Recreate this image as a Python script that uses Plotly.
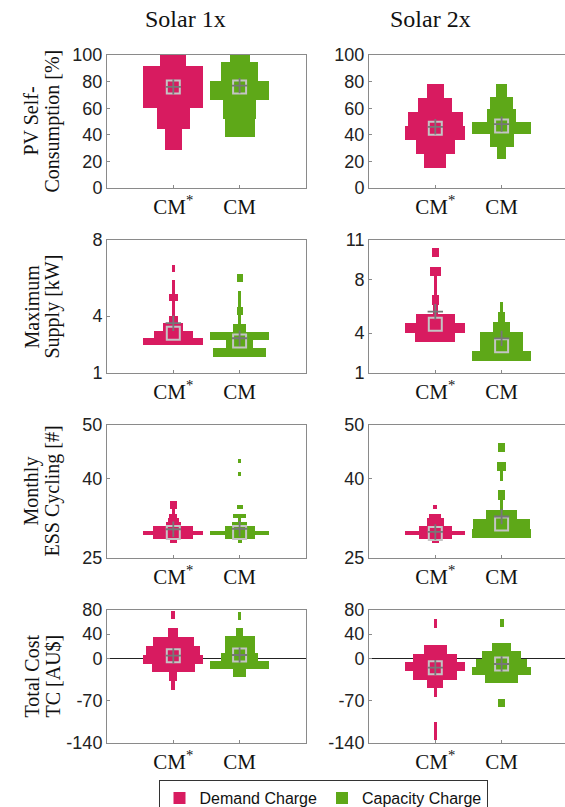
import plotly.graph_objects as go

W, H = 565, 807
DC_COLOR = "#D81B60"
CC_COLOR = "#5EA818"

col_titles = ["Solar 1x", "Solar 2x"]
row_titles = [("PV Self-", "Consumption [%]"), ("Maximum", "Supply [kW]"),
              ("Monthly", "ESS Cycling [#]"), ("Total Cost", "TC [AU$]")]
cat_labels = ["CM<sup>*</sup>", "CM"]

y_ranges = [[0, 100], [1, 8], [25, 50], [-140, 80]]
y_ranges_2x = [[0, 100], [1, 11], [25, 50], [-140, 80]]
y_ticks = [[0, 20, 40, 60, 80, 100], [1, 4, 8], [25, 40, 50], [-140, -70, 0, 40, 80]]
y_ticks_2x = [[0, 20, 40, 60, 80, 100], [1, 4, 8, 11], [25, 40, 50], [-140, -70, 0, 40, 80]]

# ---- histogram bins: lower edges, bin height, bar widths (normalised) ----
# Row 1: PV self-consumption
pv_s1_dc_lo = [28.6, 44.3, 60.0, 75.7, 91.4]
pv_s1_dc_h = 15.7
pv_s1_dc_w = [0.25, 0.50, 0.90, 0.90, 0.39]
pv_s1_cc_lo = [38.0, 52.1, 66.2, 80.3, 94.4]
pv_s1_cc_h = 14.1
pv_s1_cc_w = [0.45, 0.49, 0.90, 0.55, 0.30]
pv_s2_dc_lo = [15.3, 25.8, 36.3, 46.8, 57.3, 67.8]
pv_s2_dc_h = 10.5
pv_s2_dc_w = [0.33, 0.58, 0.91, 0.83, 0.51, 0.25]
pv_s2_cc_lo = [21.8, 31.2, 40.6, 50.0, 59.4, 68.8]
pv_s2_cc_h = 9.4
pv_s2_cc_w = [0.14, 0.36, 0.89, 0.44, 0.35, 0.16]

# Row 2: maximum supply
sup_s1_dc_lo = [2.47, 2.853, 3.236, 3.619, 4.002, 4.385, 4.768, 5.151, 5.534, 6.30]
sup_s1_dc_h = 0.383
sup_s1_dc_w = [0.90, 0.58, 0.30, 0.13, 0.04, 0.04, 0.13, 0.04, 0.04, 0.04]
sup_s1_cc_lo = [1.86, 2.295, 2.73, 3.165, 3.60, 4.035, 4.47, 4.905, 5.775]
sup_s1_cc_h = 0.435
sup_s1_cc_w = [0.80, 0.41, 0.90, 0.19, 0.035, 0.09, 0.035, 0.035, 0.09]
sup_s2_dc_lo = [3.31, 4.02, 4.73, 5.44, 6.15, 6.86, 7.57, 8.28, 9.70]
sup_s2_dc_h = 0.71
sup_s2_dc_w = [0.60, 0.90, 0.58, 0.07, 0.10, 0.05, 0.05, 0.16, 0.10]
sup_s2_cc_lo = [1.90, 2.64, 3.38, 4.12, 4.86, 5.60]
sup_s2_cc_h = 0.74
sup_s2_cc_w = [0.88, 0.64, 0.64, 0.26, 0.11, 0.05]

# Row 3: monthly ESS cycling
cyc_s1_dc_lo = [27.8, 28.59, 29.38, 30.17, 30.96, 31.75, 32.54, 33.33, 34.12, 34.91]
cyc_s1_dc_h = 0.79
cyc_s1_dc_w = [0.10, 0.60, 0.90, 0.60, 0.23, 0.17, 0.12, 0.04, 0.10, 0.10]
cyc_s1_cc_lo = [27.8, 28.59, 29.38, 30.17, 30.96, 31.75, 32.54, 34.12, 40.44, 42.81]
cyc_s1_cc_h = 0.79
cyc_s1_cc_w = [0.06, 0.45, 0.90, 0.45, 0.22, 0.05, 0.19, 0.09, 0.05, 0.05]
cyc_s2_dc_lo = [27.8, 28.59, 29.38, 30.17, 30.96, 31.75, 32.54, 34.12]
cyc_s2_dc_h = 0.79
cyc_s2_dc_w = [0.11, 0.49, 0.90, 0.49, 0.25, 0.25, 0.18, 0.06]
cyc_s2_cc_lo = [28.7, 30.5, 32.3, 34.1, 35.9, 39.5, 41.3, 44.9]
cyc_s2_cc_h = 1.8
cyc_s2_cc_w = [0.88, 0.86, 0.46, 0.03, 0.11, 0.04, 0.13, 0.11]

# Row 4: total cost
tc_s1_dc_lo = [-52.3, -37.7, -23.1, -8.5, 6.1, 20.7, 35.3, 64.5]
tc_s1_dc_h = 14.6
tc_s1_dc_w = [0.06, 0.12, 0.65, 0.90, 0.82, 0.62, 0.15, 0.06]
tc_s1_cc_lo = [-31.3, -17.7, -4.1, 9.5, 23.1, 36.7, 63.9]
tc_s1_cc_h = 13.6
tc_s1_cc_w = [0.20, 0.90, 0.55, 0.45, 0.45, 0.10, 0.05]
tc_s2_dc_lo = [-134.4, -120.2, -63.4, -49.2, -35.0, -20.8, -6.6, 7.6, 50.2]
tc_s2_dc_h = 14.2
tc_s2_dc_w = [0.05, 0.05, 0.05, 0.24, 0.66, 0.90, 0.66, 0.34, 0.05]
tc_s2_cc_lo = [-80.9, -41.3, -28.1, -14.9, -1.7, 11.5, 51.1]
tc_s2_cc_h = 13.2
tc_s2_cc_w = [0.10, 0.50, 0.88, 0.76, 0.60, 0.28, 0.06]

# medians (square) and means (plus): [dc, cc] per panel
pv_s1_med = [76, 76];      pv_s1_mean = [76, 77]
pv_s2_med = [45, 46.6];    pv_s2_mean = [46, 48]
sup_s1_med = [3.09, 2.68]; sup_s1_mean = [3.62, 2.83]
sup_s2_med = [4.66, 3.05]; sup_s2_mean = [5.61, 3.6]
cyc_s1_med = [29.8, 29.8]; cyc_s1_mean = [30.4, 30.5]
cyc_s2_med = [29.6, 31.4]; cyc_s2_mean = [29.9, 32.8]
tc_s1_med = [4.4, 5.6];    tc_s1_mean = [4.4, 5.6]
tc_s2_med = [-15.4, -9.3]; tc_s2_mean = [-15.4, -9.3]

panels = [
    [((pv_s1_dc_lo, pv_s1_dc_h, pv_s1_dc_w), (pv_s1_cc_lo, pv_s1_cc_h, pv_s1_cc_w), pv_s1_med, pv_s1_mean),
     ((pv_s2_dc_lo, pv_s2_dc_h, pv_s2_dc_w), (pv_s2_cc_lo, pv_s2_cc_h, pv_s2_cc_w), pv_s2_med, pv_s2_mean)],
    [((sup_s1_dc_lo, sup_s1_dc_h, sup_s1_dc_w), (sup_s1_cc_lo, sup_s1_cc_h, sup_s1_cc_w), sup_s1_med, sup_s1_mean),
     ((sup_s2_dc_lo, sup_s2_dc_h, sup_s2_dc_w), (sup_s2_cc_lo, sup_s2_cc_h, sup_s2_cc_w), sup_s2_med, sup_s2_mean)],
    [((cyc_s1_dc_lo, cyc_s1_dc_h, cyc_s1_dc_w), (cyc_s1_cc_lo, cyc_s1_cc_h, cyc_s1_cc_w), cyc_s1_med, cyc_s1_mean),
     ((cyc_s2_dc_lo, cyc_s2_dc_h, cyc_s2_dc_w), (cyc_s2_cc_lo, cyc_s2_cc_h, cyc_s2_cc_w), cyc_s2_med, cyc_s2_mean)],
    [((tc_s1_dc_lo, tc_s1_dc_h, tc_s1_dc_w), (tc_s1_cc_lo, tc_s1_cc_h, tc_s1_cc_w), tc_s1_med, tc_s1_mean),
     ((tc_s2_dc_lo, tc_s2_dc_h, tc_s2_dc_w), (tc_s2_cc_lo, tc_s2_cc_h, tc_s2_cc_w), tc_s2_med, tc_s2_mean)],
]

# ---- layout geometry (pixels) ----
col_px = [(107, 306), (369, 565)]
row_px = [(55, 188), (240, 373), (425, 558), (610, 743)]
px_per_unit = 66.3

fig = go.Figure()
layout = dict(width=W, height=H, margin=dict(l=0, r=0, t=0, b=0, autoexpand=False), autosize=False,
              plot_bgcolor="white", paper_bgcolor="white", bargap=0, barmode="overlay",
              showlegend=True)

sans = "Liberation Sans, Arial, sans-serif"
serif = "Liberation Serif, Times New Roman, serif"
axis_col = "#8a8a8a"
annotations = []
legend_done = [False, False]

for r in range(4):
    for c in range(2):
        idx = r * 2 + c + 1
        xa = "x" if idx == 1 else f"x{idx}"
        ya = "y" if idx == 1 else f"y{idx}"
        x0, x1 = col_px[c]
        y0, y1 = row_px[r]
        xr = [0, (x1 - x0) / px_per_unit]
        yr = y_ranges[r] if c == 0 else y_ranges_2x[r]
        yt = y_ticks[r] if c == 0 else y_ticks_2x[r]
        layout["xaxis" if idx == 1 else f"xaxis{idx}"] = dict(
            domain=[x0 / W, x1 / W], range=xr, anchor=ya, tickvals=[1, 2], ticktext=cat_labels,
            showline=True, linecolor=axis_col, linewidth=1, mirror=True, ticks="inside",
            ticklen=3, tickcolor=axis_col, showgrid=False, zeroline=False, fixedrange=True,
            automargin=False, tickfont=dict(family=serif, size=21, color="#111"))
        layout["yaxis" if idx == 1 else f"yaxis{idx}"] = dict(
            domain=[1 - y1 / H, 1 - y0 / H], range=yr, anchor=xa, tickvals=yt,
            ticktext=[str(t) for t in yt],
            showline=True, linecolor=axis_col, linewidth=1, mirror=(c == 0), ticks="inside",
            ticklen=3, tickcolor=axis_col, showgrid=False, automargin=False,
            zeroline=(r == 3), zerolinecolor="#222", zerolinewidth=1,
            tickfont=dict(family=sans, size=18, color="#222"))
        dc, cc, med, mean = panels[r][c]
        for g, (lo, h, w) in enumerate([dc, cc]):
            pos = g + 1
            color = DC_COLOR if g == 0 else CC_COLOR
            name = "Demand Charge" if g == 0 else "Capacity Charge"
            fig.add_trace(go.Bar(
                orientation="h", y=[v + h / 2 for v in lo], x=w,
                base=[pos - wi / 2 for wi in w], width=h,
                marker=dict(color=color, line=dict(width=0)),
                xaxis=xa, yaxis=ya, name=name, legendgroup=name,
                showlegend=not legend_done[g], hoverinfo="skip"))
            legend_done[g] = True
        fig.add_trace(go.Scatter(
            x=[1, 2], y=med, mode="markers", xaxis=xa, yaxis=ya, showlegend=False,
            marker=dict(symbol="square-open", size=13, color="#c4c4c4", line=dict(width=2, color="#c4c4c4")),
            hoverinfo="skip"))
        fig.add_trace(go.Scatter(
            x=[1, 2], y=mean, mode="markers", xaxis=xa, yaxis=ya, showlegend=False,
            marker=dict(symbol="cross-thin", size=11, color="#777777", line=dict(width=1.8, color="#777777")),
            hoverinfo="skip"))

# column titles
for xc, t in zip([185, 430], col_titles):
    annotations.append(dict(text=t, x=xc / W, y=1 - 19 / H, xref="paper", yref="paper",
                            showarrow=False, xanchor="center", yanchor="middle",
                            font=dict(family=serif, size=24, color="#111")))
# row titles (two lines, rotated)
for r, (l1, l2) in enumerate(row_titles):
    yc = (row_px[r][0] + row_px[r][1]) / 2
    for xc, t in zip([31, 52], [l1, l2]):
        annotations.append(dict(text=t, x=xc / W, y=1 - yc / H, xref="paper", yref="paper",
                                showarrow=False, textangle=-90, xanchor="center", yanchor="middle",
                                font=dict(family=serif, size=20, color="#111")))

layout["annotations"] = annotations
layout["legend"] = dict(orientation="h", x=323 / W, xanchor="center", y=1 - 780 / H, yanchor="top",
                        bordercolor="#333", borderwidth=1, bgcolor="white",
                        font=dict(family=sans, size=16, color="#111"), itemwidth=30,
                        traceorder="normal", tracegroupgap=0)
fig.update_layout(**layout)
fig.write_html("out.html")
